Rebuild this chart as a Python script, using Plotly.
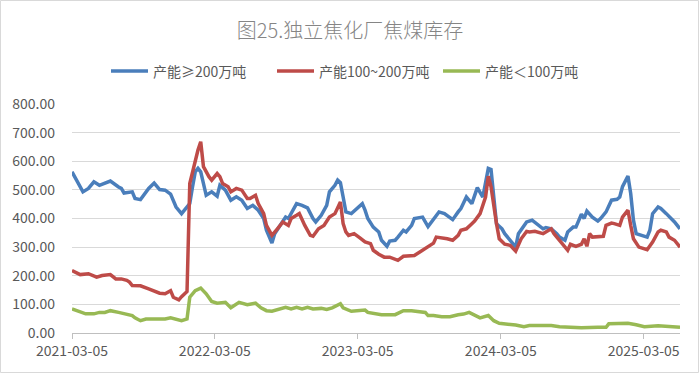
import numpy as np
import pandas as pd
import plotly.graph_objects as go

START = "2021-03-05"
tick_labels = ["2021-03-05", "2022-03-05", "2023-03-05", "2024-03-05", "2025-03-05"]
y_ticks = [0, 100, 200, 300, 400, 500, 600, 700, 800]

names = ["产能≥200万吨", "产能100~200万吨", "产能＜100万吨"]
colors = ["#4A7EBB", "#BE4B48", "#98B954"]

# weeks since 2021-03-05 and stock values (万吨)
big_weeks = [0, 4, 6, 8, 10, 12, 14, 17, 18, 19, 22, 23, 25, 28, 30, 32, 34, 36, 38, 40, 41, 43,
             44, 45, 46, 47, 49, 51, 53, 54, 56, 58, 60, 62, 64, 66, 68, 70, 71, 73, 74, 76, 78, 79,
             82, 84, 86, 88, 89, 91, 93, 94, 96, 97, 98, 99, 100, 102, 104, 106, 107, 108, 110, 112,
             113, 115, 116, 118, 119, 121, 122, 124, 125, 128, 130, 132, 134, 136, 139, 141, 142,
             144, 145, 146, 148, 150, 152, 153, 154, 155, 157, 158, 160, 162, 163, 165, 166, 168,
             170, 172, 173, 175, 177, 178, 180, 181, 183, 184, 186, 187, 188, 190, 192, 193, 195,
             197, 199, 200, 201, 203, 204, 205, 206, 208, 210, 211, 212, 214, 215, 217, 219, 220,
             222]
big_vals = [563, 493, 505, 528, 516, 522, 531, 510, 505, 489, 493, 470, 466, 505, 524, 501, 499,
            485, 440, 417, 429, 452,
            510, 563, 575, 563, 481, 493, 478, 516, 499, 464, 476, 464, 435, 446, 429, 400, 359,
            314, 347, 376, 405, 400,
            452, 446, 437, 400, 388, 411, 446, 493, 516, 534, 525, 475, 423, 417, 435, 452, 429,
            400, 370, 353,
            324, 303, 321, 324, 335, 359, 353, 376, 400, 405, 372, 400, 423, 417, 396, 423, 435,
            475, 464, 452, 508, 475, 575, 571, 475, 382, 364, 347, 324, 300, 347, 376, 388, 394,
            380, 364, 368, 364, 347, 335, 324, 353, 370, 370, 415, 400, 426, 405, 391, 400, 423,
            464, 467, 475, 511, 548, 487, 394, 347, 341, 335, 359, 417, 440, 435, 417, 400, 388,
            364]

mid_weeks = [0, 2, 3, 6, 8, 9, 11, 14, 16, 18, 20, 21, 22, 25, 28, 30, 32, 34, 36, 37, 39, 40, 42,
             43, 45, 46, 47, 48, 50, 51, 53, 54, 55, 57, 58, 60, 62, 64, 65, 67, 68, 70, 71, 73, 75,
             77, 79, 80, 82, 83, 85, 87, 88, 89, 90, 92, 94, 96, 98, 99, 100, 101, 103, 105, 107,
             109, 110, 112, 114, 116, 118, 119, 121, 123, 125, 127, 129, 130, 132, 133, 135, 137,
             139, 141, 142, 144, 146, 147, 149, 151, 152, 153, 155, 156, 158, 160, 162, 164, 166,
             167, 169, 172, 173, 175, 176, 178, 180, 181, 182, 184, 186, 187, 188, 189, 190, 192,
             194, 195, 197, 198, 200, 201, 203, 204, 205, 207, 209, 210, 212, 214, 215, 217, 218,
             220, 222]
mid_vals = [218, 209, 204, 207, 201, 195, 201, 204, 189, 189, 184, 178, 166, 165, 154, 148, 139,
            137, 148, 125, 116, 127, 145,
            522, 604, 639, 668, 581, 546, 534, 557, 546, 522, 511, 493, 505, 499, 470, 470, 481,
            452, 417, 376, 341, 364,
            388, 376, 400, 411, 417, 376, 341, 338, 353, 364, 376, 405, 417, 458, 382, 353, 341,
            347, 333, 318,
            312, 289, 275, 265, 265, 259, 254, 268, 271, 271, 283, 294, 300, 314, 335, 333, 329,
            324, 341, 359, 364, 382, 391, 417, 475, 548, 511, 382, 329, 310, 306, 286, 329, 355,
            353, 355, 347, 353, 364, 347, 324, 300, 289, 310, 303, 310, 329, 303, 347, 335, 335,
            338, 376, 384, 382, 376, 405, 429, 376, 329, 300, 294, 291, 318, 353, 359, 353, 335,
            324, 300]

small_weeks = [0, 2, 5, 8, 10, 12, 14, 17, 19, 22, 23, 25, 27, 30, 34, 36, 39, 40, 42,
               43, 45, 47, 49, 50, 51, 53, 56, 58, 61, 64, 67, 69, 71, 73, 76, 78, 80, 82, 84, 86,
               88, 91, 93, 95, 98, 99, 102, 104, 107, 108, 110, 113, 118, 119, 121, 124, 127, 129,
               130, 132, 135, 138, 141, 143, 145, 147, 149, 152, 154, 156, 159, 162, 165, 167, 171,
               175, 178, 186, 192, 195, 196, 200, 203, 206, 209, 214, 218, 222]
small_vals = [84, 78, 67, 67, 72, 72, 78, 72, 67, 61, 53, 43, 49, 49, 49, 53, 46, 43, 49,
              125, 148, 157, 137, 125, 110, 104, 107, 88, 107, 99, 104, 88, 78, 76, 84, 90, 84, 90,
              84, 90,
              84, 86, 82, 88, 102, 88, 76, 78, 80, 72, 69, 64, 64, 69, 78, 78, 76, 72,
              61, 61, 57, 57, 64, 66, 72, 64, 53, 61, 43, 34, 32, 28, 22, 26, 26,
              26, 22, 18, 20, 20, 32, 34, 34, 29, 22, 25, 22, 20]


def to_dates(weeks):
    return pd.Timestamp(START) + pd.to_timedelta(np.array(weeks) * 7, unit="D")


series = [(big_weeks, big_vals), (mid_weeks, mid_vals), (small_weeks, small_vals)]

fig = go.Figure()
for (wk, vals), name, color in zip(series, names, colors):
    fig.add_trace(go.Scatter(x=to_dates(wk), y=vals, mode="lines", name=name,
                             line=dict(color=color, width=3.5)))

W, H = 700, 374
ml, mr, mt, mb = 72, 20, 104, 41
pw, ph = W - ml - mr, H - mt - mb

fig.update_layout(
    width=W, height=H,
    margin=dict(l=ml, r=mr, t=mt, b=mb, autoexpand=False),
    paper_bgcolor="white", plot_bgcolor="white",
    font=dict(family="Noto Sans CJK SC, sans-serif", color="#595959", size=14),
    title=dict(text="图25.独立焦化厂焦煤库存", x=0.5, xanchor="center",
               y=1 - 30.5 / H, yanchor="middle", yref="container",
               font=dict(size=20, color="#858585", weight=300)),
    legend=dict(orientation="h", x=(106 - ml) / pw, xanchor="left", y=(H - mb - 71.5) / ph,
                yanchor="middle", font=dict(size=14, color="#595959"),
                itemwidth=37, entrywidth=114, entrywidthmode="pixels",
                bgcolor="rgba(0,0,0,0)"),
    showlegend=True,
)

last = to_dates([max(big_weeks)])[0]
fig.update_xaxes(
    type="date",
    range=[pd.Timestamp(START), last],
    tickvals=pd.to_datetime(tick_labels), ticktext=tick_labels,
    showgrid=False, showline=True, linecolor="#BFBFBF", linewidth=1,
    ticks="outside", ticklen=5, tickcolor="#BFBFBF",
    tickfont=dict(size=14, color="#595959"),
    zeroline=False, automargin=False,
)
fig.update_yaxes(
    range=[0, 800], tickvals=y_ticks, tickformat=".2f",
    showgrid=True, gridcolor="#D9D9D9", gridwidth=1,
    zeroline=False, showline=False, ticks="",
    ticklabelstandoff=16, automargin=False,
    tickfont=dict(size=14, color="#595959"),
)

# light border around the whole chart
fig.add_shape(type="rect", xref="paper", yref="paper",
              x0=(0.5 - ml) / pw, x1=(W - 1.5 - ml) / pw,
              y0=-(mb - 1.5) / ph, y1=1 + (mt - 0.5) / ph,
              line=dict(color="#D9D9D9", width=1), layer="below")

fig.write_html("out.html", config={"displayModeBar": False},
               post_script="document.body.style.margin='0';")
